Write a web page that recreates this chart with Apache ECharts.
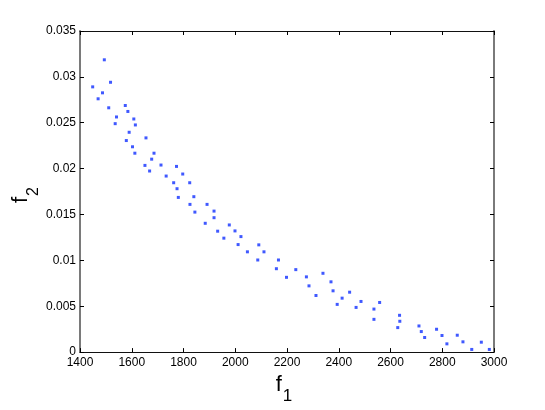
<!DOCTYPE html>
<html>
<head>
<meta charset="utf-8">
<script src="https://cdn.jsdelivr.net/npm/echarts@6/dist/echarts.min.js"></script>
<style>
  html, body { margin: 0; padding: 0; background: #fff; }
  #chart { width: 545px; height: 410px; }
</style>
</head>
<body>
<div id="chart"></div>
<script>
// f1 / f2 values
var f1 = [1449, 1470, 1494, 1487, 1518, 1511, 1541, 1536, 1575, 1585,
  1608, 1614, 1590, 1579, 1603, 1612, 1655, 1686, 1677, 1651,
  1669, 1713, 1733, 1773, 1797, 1762, 1775, 1824, 1780, 1840,
  1825, 1891, 1844, 1918, 1918, 1884, 1977, 1999, 1932, 2022,
  1956, 2011, 2091, 2047, 2111, 2087, 2167, 2159, 2234, 2198,
  2275, 2339, 2370, 2285, 2312, 2378, 2394, 2413, 2442, 2467,
  2486, 2536, 2536, 2558, 2635, 2636, 2628, 2710, 2719, 2732,
  2778, 2799, 2818, 2858, 2880, 2914, 2951, 2982]
var f2 = [0.02891, 0.02761, 0.03186, 0.02826, 0.02941, 0.02663, 0.02563, 0.02490, 0.02688, 0.02623,
  0.02541, 0.02476, 0.02396, 0.02306, 0.02238, 0.02168, 0.02335, 0.02168, 0.02103, 0.02035,
  0.01974, 0.02039, 0.01919, 0.02024, 0.01941, 0.01846, 0.01781, 0.01846, 0.01686, 0.01694,
  0.01610, 0.01610, 0.01526, 0.01537, 0.01465, 0.01404, 0.01386, 0.01321, 0.01318, 0.01259,
  0.01242, 0.01172, 0.01169, 0.01093, 0.01093, 0.01004, 0.01004, 0.00909, 0.00899, 0.00815,
  0.00820, 0.00859, 0.00766, 0.00722, 0.00617, 0.00668, 0.00520, 0.00588, 0.00653, 0.00487,
  0.00552, 0.00469, 0.00357, 0.00541, 0.00401, 0.00336, 0.00267, 0.00285, 0.00224, 0.00159,
  0.00249, 0.00181, 0.00090, 0.00184, 0.00112, 0.00029, 0.00108, 0.00029]

var xMin = 1400, xMax = 3000, xStep = 200
var yMin = 0, yMax = 0.035, yStep = 0.005

var font = 'Liberation Sans, Arial, Helvetica, sans-serif'
var points = f1.map(function (x, i) { return [x, f2[i]] })

var tick = { show: true, inside: true, length: 4, lineStyle: { color: '#000', width: 1 } }
var frameDark = { show: true, onZero: false, lineStyle: { color: '#111', width: 1 } }
var frameGray = { show: true, onZero: false, lineStyle: { color: '#7a7a7a', width: 2 } }

var chart = echarts.init(document.getElementById('chart'), null, { renderer: 'canvas' })
chart.setOption({
  animation: false,
  backgroundColor: '#fff',
  grid: { left: 80, right: 51, top: 31, bottom: 56, containLabel: false },
  // y title drawn by hand so it can lie on its side like the original
  graphic: [{
    type: 'text',
    x: 20.5, y: 195,
    rotation: Math.PI / 2,
    style: {
      text: '{f|f}{s|2}',
      align: 'center',
      verticalAlign: 'middle',
      rich: {
        f: { fontSize: 22, fontFamily: font, fill: '#000', lineHeight: 22, verticalAlign: 'top' },
        s: { fontSize: 16, fontFamily: font, fill: '#000', lineHeight: 16, verticalAlign: 'top', padding: [16, 0, 0, 1] }
      }
    }
  }],
  xAxis: [{
    type: 'value', position: 'bottom', min: xMin, max: xMax, interval: xStep,
    axisLine: frameDark, axisTick: tick, splitLine: { show: false },
    axisLabel: { color: '#000', fontSize: 12, fontFamily: font, margin: 5, formatter: function (v) { return String(v) } },
    name: '{f|f}{s|1}', nameLocation: 'middle', nameGap: 19,
    nameTextStyle: {
      rich: {
        f: { fontSize: 22, fontFamily: font, color: '#000', lineHeight: 22, verticalAlign: 'top' },
        s: { fontSize: 17, fontFamily: font, color: '#000', lineHeight: 17, verticalAlign: 'top', padding: [14, 6, 0, 1] }
      }
    }
  }, {
    type: 'value', position: 'top', min: xMin, max: xMax, interval: xStep,
    axisLine: frameDark, axisTick: tick, axisLabel: { show: false }, splitLine: { show: false }
  }],
  yAxis: [{
    type: 'value', position: 'left', min: yMin, max: yMax, interval: yStep,
    axisLine: frameGray, axisTick: tick, splitLine: { show: false },
    axisLabel: { color: '#000', fontSize: 12, fontFamily: font, margin: 4 }
  }, {
    type: 'value', position: 'right', min: yMin, max: yMax, interval: yStep,
    axisLine: frameGray, axisTick: tick, axisLabel: { show: false }, splitLine: { show: false }
  }],
  series: [{
    type: 'scatter',
    data: points,
    symbol: 'rect',
    symbolSize: 3,
    itemStyle: { color: '#1030ff' }
  }]
})
</script>
</body>
</html>
